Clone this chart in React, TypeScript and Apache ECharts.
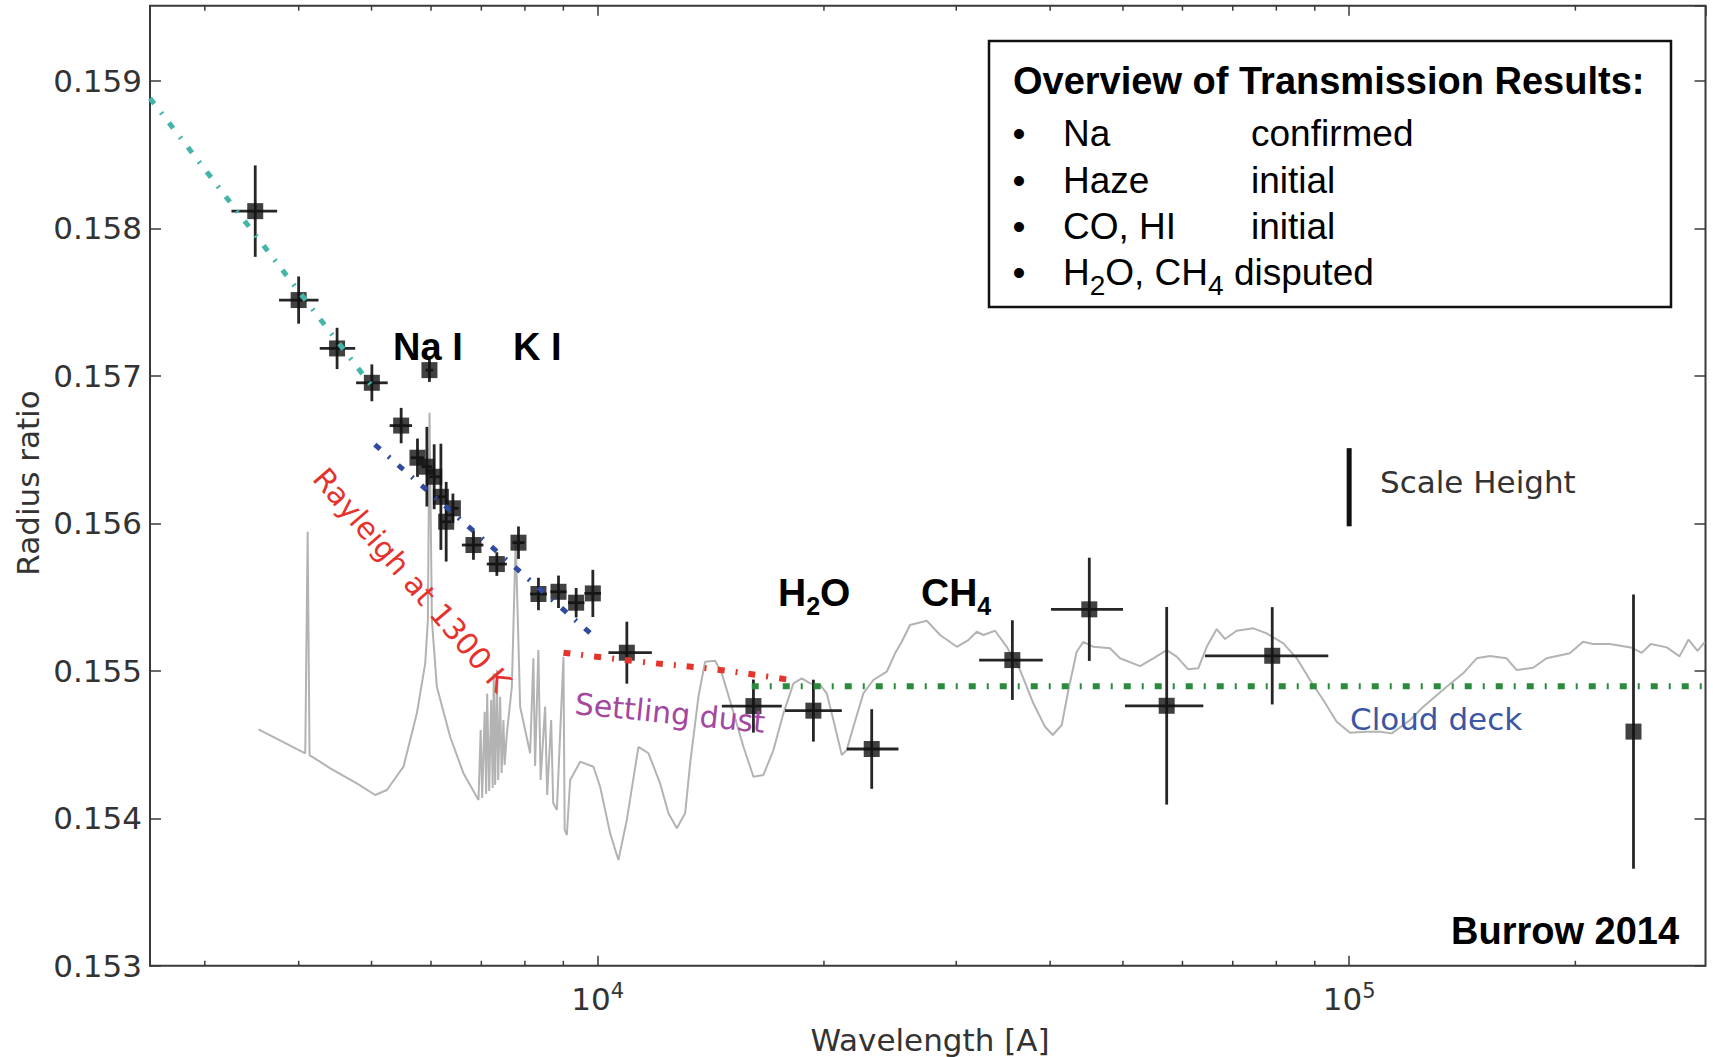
import { useEffect, useRef } from "react";
import * as echarts from "echarts";

// ---------- axis ranges ----------
const WAVELENGTH_MIN = 2536;
const WAVELENGTH_MAX = 298000;
const RADIUS_MIN = 0.153;
const RADIUS_MAX = 0.15951;
const RADIUS_STEP = 0.001;

// ---------- observed transmission points ----------
const obsWavelength = [3501, 3999, 4499, 5005, 5475, 5971, 5756, 5924, 6058, 6184, 6416, 6285, 6833, 7341, 7844, 8339, 8867, 9360, 9851, 10933, 16114, 19364, 23153, 35628, 45100, 57170, 79000, 239000];
const obsRadius = [0.158117, 0.157514, 0.157186, 0.156953, 0.156663, 0.157039, 0.156445, 0.156384, 0.156316, 0.15618, 0.156102, 0.156011, 0.155853, 0.155724, 0.155869, 0.155521, 0.155536, 0.155462, 0.155525, 0.155123, 0.154761, 0.15473, 0.15447, 0.155073, 0.155417, 0.154763, 0.155102, 0.154588];
const obsWavelengthLow = [3255, 3766, 4266, 4769, 5285, 5900, 5640, 5830, 5960, 6090, 6300, 6190, 6595, 7117, 7700, 8129, 8650, 9130, 9600, 10333, 14628, 17755, 21452, 32180, 40110, 50310, 64290, 0];
const obsWavelengthHigh = [3744, 4250, 4755, 5254, 5661, 6040, 5870, 6020, 6160, 6280, 6530, 6380, 7046, 7570, 7990, 8557, 9090, 9600, 10100, 11804, 17576, 21128, 25130, 39100, 50010, 63960, 93800, 0];
const obsRadiusErr = [0.00031, 0.00016, 0.00014, 0.000125, 0.00012, 0.00008, 0.00013, 0.00027, 0.00022, 0.00036, 0.0001, 0.00027, 0.0001, 0.00008, 0.00011, 0.00011, 0.00011, 0.0001, 0.00016, 0.00021, 0.00018, 0.00021, 0.00027, 0.00027, 0.00035, 0.00067, 0.00033, 0.00093];

// ---------- model spectrum (grey) ----------
const modelWavelength = [
  3537, 4081, 4111, 4135, 4406, 4779, 5056, 5241, 5514, 5745, 5894, 5942, 5972, 6016, 6108, 6362, 6627, 6939,
  6986, 7018, 7072, 7104, 7126, 7170, 7214, 7248, 7270, 7303, 7342, 7371, 7415, 7449, 7490, 7518, 7570, 7686,
  7777, 7884, 8129, 8210, 8253, 8337, 8394, 8511, 8564, 8670, 8724, 8823, 9003, 9036, 9097, 9190, 9476,
  9869, 10074, 10387, 10654, 10932, 11329, 11682, 12106, 12419, 12741, 13072, 13273, 13614, 13896, 14328,
  14625, 15080, 15628, 16114, 16615, 17132, 17665, 18215, 18690, 19170, 19766, 20175, 20588, 21125, 21450,
  21889, 22570, 23270, 24243, 24872, 25387, 26038, 27410, 28550, 30050, 31130, 31950, 32600, 33790, 35020,
  36480, 37990, 39380, 40320, 41450, 42300, 43390, 44280, 45660, 48050, 49550, 52690, 54870, 57170, 58950,
  61080, 62980, 64630, 66640, 68360, 70850, 74550, 77670, 81730, 85170, 88690, 92370, 96250, 100250, 105510,
  109900, 113940, 120500, 125500, 134800, 141800, 147800, 153900, 162000, 167100, 175700, 183100, 196600,
  204800, 211200, 222300, 237100, 245100, 252000, 264700, 275200, 282900, 290800, 297300,
];
const modelRadius = [
  0.154603, 0.154441, 0.155943, 0.154429, 0.154339, 0.154237, 0.154158, 0.154192, 0.15435, 0.154712, 0.155051, 0.155344, 0.15675, 0.155344, 0.154892, 0.154553, 0.154305, 0.154124,
  0.154599, 0.154138, 0.154723, 0.154165, 0.154847, 0.154185, 0.154802, 0.154205, 0.154983, 0.154226, 0.155005, 0.15426, 0.154824, 0.154307, 0.154666, 0.154361, 0.154576, 0.154892,
  0.155887, 0.154757, 0.154441, 0.155085, 0.154355, 0.155141, 0.15426, 0.154757, 0.154158, 0.154666, 0.154104, 0.154056, 0.155096, 0.153921, 0.153887, 0.15426, 0.154384,
  0.15435, 0.154214, 0.153898, 0.153717, 0.153989, 0.154485, 0.154441, 0.154237, 0.154034, 0.153932, 0.154034, 0.154373, 0.154824, 0.155062, 0.155068,
  0.154983, 0.154757, 0.154485, 0.154282, 0.154294, 0.154463, 0.154712, 0.154915, 0.154949, 0.154915, 0.154904, 0.154847, 0.154666, 0.154429, 0.154463,
  0.154621, 0.154847, 0.154938, 0.154994, 0.155119, 0.155197, 0.155311, 0.15534, 0.155243, 0.155163, 0.155209, 0.155265, 0.155243, 0.155272, 0.155163,
  0.155005, 0.15478, 0.154621, 0.154565, 0.154633, 0.15487, 0.155129, 0.155197, 0.155163, 0.155153, 0.155085, 0.155032, 0.155085, 0.155141, 0.155096,
  0.15501, 0.155017, 0.155163, 0.155283, 0.155216, 0.155272, 0.155288, 0.155254, 0.155186, 0.155085, 0.154938, 0.154802, 0.154655, 0.15458, 0.154587,
  0.154587, 0.154576, 0.154666, 0.154757, 0.154892, 0.154983, 0.155085, 0.1551, 0.155085, 0.155005, 0.155021, 0.155085, 0.155119,
  0.155197, 0.155182, 0.155182, 0.155159, 0.155122, 0.155182, 0.155159, 0.155098, 0.155212, 0.155135, 0.155195,
];

// ---------- model trend lines ----------
const hazeWavelength = [2536, 5005];
const hazeRadius = [0.158883, 0.15693];
const rayleighWavelength = [5051, 9770];
const rayleighRadius = [0.156534, 0.155256];
const dustWavelength = [9003, 11386, 14328, 18030];
const dustRadius = [0.155123, 0.155062, 0.15501, 0.154938];
const cloudWavelength = [16030, 298000];
const cloudRadius = [0.154895, 0.154895];
const scaleHeightWavelength = [100000, 100000];
const scaleHeightRadius = [0.15651, 0.15598];

// ---------- minor ticks on the log axis ----------
const minorTickWavelength = [3000, 4000, 5000, 6000, 7000, 8000, 9000, 20000, 30000, 40000, 50000, 60000, 70000, 80000, 90000, 200000];

const pairs = (xs: number[], ys: number[]) => xs.map((x, i) => [x, ys[i]]);

const DEJAVU = "DejaVu Sans";
const ARIAL = "Liberation Sans";
const DOT_DASH = [7, 11, 2, 11];

export default function App() {
  const ref = useRef<HTMLDivElement>(null);

  useEffect(() => {
    document.body.style.margin = "0";
    const chart = echarts.init(ref.current!, undefined, { renderer: "svg" });

    const plainText = (text: string, x: number, y: number, size: number, fill: string, family: string, weight: string = "normal", extra: any = {}) => ({
      type: "text",
      x,
      y,
      z: 100,
      silent: true,
      ...extra,
      style: {
        text,
        fontSize: size,
        fontFamily: family,
        fontWeight: weight,
        fill,
        align: extra.align || "left",
        verticalAlign: "middle",
      },
    });

    const subText = (text: string, x: number, y: number, size: number, weight: string, lh: number, subSize: number) => ({
      type: "text",
      x,
      y,
      z: 100,
      silent: true,
      style: {
        text,
        align: "left",
        verticalAlign: "middle",
        rich: {
          n: { fontSize: size, fontFamily: ARIAL, fontWeight: weight, fill: "#000", color: "#000", lineHeight: lh, verticalAlign: "middle" },
          s: { fontSize: subSize, fontFamily: ARIAL, fontWeight: weight, fill: "#000", color: "#000", lineHeight: 14, verticalAlign: "bottom" },
        },
      },
    });

    const option: any = {
      animation: false,
      backgroundColor: "#fff",
      grid: {
        left: 150,
        right: 7.5,
        top: 5.7,
        bottom: 91.2,
        show: true,
        borderColor: "#3a3a3a",
        borderWidth: 2,
        backgroundColor: "transparent",
        containLabel: false,
      },
      xAxis: [
        {
          type: "log",
          logBase: 10,
          min: WAVELENGTH_MIN,
          max: WAVELENGTH_MAX,
          position: "bottom",
          axisLine: { show: false },
          splitLine: { show: false },
          axisTick: { show: true, inside: true, length: 10, lineStyle: { color: "#3a3a3a", width: 1.5 } },
          axisLabel: {
            showMinLabel: false,
            showMaxLabel: false,
            margin: 15,
            formatter: (v: number) => {
              const e = Math.log10(v);
              const k = Math.round(e);
              if (Math.abs(e - k) > 1e-6) return "";
              return `{n|10}{s|${k}}`;
            },
            rich: {
              n: { fontSize: 31, fontFamily: DEJAVU, color: "#333", lineHeight: 36, verticalAlign: "middle" },
              s: { fontSize: 21, fontFamily: DEJAVU, color: "#333", lineHeight: 18, verticalAlign: "top" },
            },
          },
        },
        {
          type: "log",
          logBase: 10,
          min: WAVELENGTH_MIN,
          max: WAVELENGTH_MAX,
          position: "top",
          axisLine: { show: false },
          splitLine: { show: false },
          axisLabel: { show: false },
          axisTick: { show: true, inside: true, length: 10, lineStyle: { color: "#3a3a3a", width: 1.5 } },
        },
      ],
      yAxis: [
        {
          type: "value",
          min: RADIUS_MIN,
          max: RADIUS_MAX,
          interval: RADIUS_STEP,
          position: "left",
          axisLine: { show: false },
          splitLine: { show: false },
          axisTick: { show: true, inside: true, length: 11, lineStyle: { color: "#3a3a3a", width: 1.5 } },
          axisLabel: {
            showMaxLabel: false,
            margin: 8,
            fontSize: 31,
            fontFamily: DEJAVU,
            color: "#333",
            formatter: (v: number) => v.toFixed(3),
          },
        },
        {
          type: "value",
          min: RADIUS_MIN,
          max: RADIUS_MAX,
          interval: RADIUS_STEP,
          position: "right",
          axisLine: { show: false },
          splitLine: { show: false },
          axisLabel: { show: false },
          axisTick: { show: true, inside: true, length: 11, lineStyle: { color: "#3a3a3a", width: 1.5 } },
        },
      ],
      series: [
        {
          name: "model",
          type: "line",
          data: pairs(modelWavelength, modelRadius),
          showSymbol: false,
          symbol: "none",
          lineStyle: { color: "#b3b3b3", width: 2 },
          z: 2,
          silent: true,
        },
        {
          name: "errors",
          type: "custom",
          data: obsWavelength.map((w, i) => [w, obsRadius[i], obsWavelengthLow[i], obsWavelengthHigh[i], obsRadiusErr[i]]),
          encode: { x: 0, y: 1 },
          z: 3,
          silent: true,
          renderItem: (_params: any, api: any) => {
            const x = api.value(0);
            const y = api.value(1);
            const xl = api.value(2);
            const xh = api.value(3);
            const e = api.value(4);
            const children: any[] = [];
            const st = { stroke: "#262626", lineWidth: 2.8 };
            if (e > 0) {
              const a = api.coord([x, y - e]);
              const b = api.coord([x, y + e]);
              children.push({ type: "line", shape: { x1: a[0], y1: a[1], x2: b[0], y2: b[1] }, style: st });
            }
            if (xl > 0 && xh > 0) {
              const a = api.coord([xl, y]);
              const b = api.coord([xh, y]);
              children.push({ type: "line", shape: { x1: a[0], y1: a[1], x2: b[0], y2: b[1] }, style: st });
            }
            return { type: "group", children };
          },
        },
        {
          name: "observed",
          type: "scatter",
          data: pairs(obsWavelength, obsRadius),
          symbol: "rect",
          symbolSize: 16,
          itemStyle: { color: "#111" },
          z: 4,
          silent: true,
        },
        {
          name: "haze",
          type: "line",
          data: pairs(hazeWavelength, hazeRadius),
          showSymbol: false,
          symbol: "none",
          lineStyle: { color: "#45b5aa", width: 5, type: DOT_DASH, cap: "butt" },
          z: 6,
          silent: true,
        },
        {
          name: "rayleigh",
          type: "line",
          data: pairs(rayleighWavelength, rayleighRadius),
          showSymbol: false,
          symbol: "none",
          lineStyle: { color: "#2f4a9e", width: 5, type: DOT_DASH, cap: "butt" },
          z: 6,
          silent: true,
        },
        {
          name: "dust",
          type: "line",
          data: pairs(dustWavelength, dustRadius),
          showSymbol: false,
          symbol: "none",
          smooth: true,
          lineStyle: { color: "#e3352c", width: 6, type: DOT_DASH, cap: "butt" },
          z: 6,
          silent: true,
        },
        {
          name: "cloud",
          type: "line",
          data: pairs(cloudWavelength, cloudRadius),
          showSymbol: false,
          symbol: "none",
          lineStyle: { color: "#2b8a3e", width: 6, type: DOT_DASH, cap: "butt" },
          z: 6,
          silent: true,
        },
        {
          name: "scaleHeight",
          type: "line",
          data: pairs(scaleHeightWavelength, scaleHeightRadius),
          showSymbol: false,
          symbol: "none",
          lineStyle: { color: "#111", width: 5, cap: "butt" },
          z: 6,
          silent: true,
        },
        {
          name: "minorTicks",
          type: "custom",
          data: minorTickWavelength.map((w) => [w, RADIUS_MIN]),
          encode: { x: 0, y: 1 },
          clip: false,
          z: 7,
          silent: true,
          renderItem: (_params: any, api: any) => {
            const w = api.value(0);
            const b = api.coord([w, RADIUS_MIN]);
            const t = api.coord([w, RADIUS_MAX]);
            const st = { stroke: "#3a3a3a", lineWidth: 1.5 };
            return {
              type: "group",
              children: [
                { type: "line", shape: { x1: b[0], y1: b[1], x2: b[0], y2: b[1] - 5 }, style: st },
                { type: "line", shape: { x1: t[0], y1: t[1], x2: t[0], y2: t[1] + 5 }, style: st },
              ],
            };
          },
        },
      ],
      graphic: [
        // axis titles
        plainText("Radius ratio", 28, 483, 31, "#333", DEJAVU, "normal", { rotation: Math.PI / 2, align: "center" }),
        plainText("Wavelength [A]", 930, 1040, 31, "#333", DEJAVU, "normal", { align: "center" }),
        // feature annotations
        plainText("Na I", 393, 347, 38, "#000", ARIAL, "bold"),
        plainText("K I", 513, 347, 38, "#000", ARIAL, "bold"),
        subText("{n|H}{s|2}{n|O}", 778, 592, 39, "bold", 52, 25),
        subText("{n|CH}{s|4}", 921, 592, 39, "bold", 52, 25),
        plainText("Burrow 2014", 1451, 931, 38, "#000", ARIAL, "bold"),
        plainText("Rayleigh at 1300 K", 412, 580, 30, "#e5322d", DEJAVU, "normal", { rotation: -0.859, align: "center" }),
        plainText("Settling dust", 670, 713, 30, "#a3479f", DEJAVU, "normal", { rotation: -0.1, align: "center" }),
        plainText("Cloud deck", 1350, 719, 31, "#3b56a3", DEJAVU, "normal"),
        plainText("Scale Height", 1380, 482, 31, "#333", DEJAVU, "normal"),
        // overview box
        {
          type: "rect",
          z: 90,
          silent: true,
          shape: { x: 989, y: 41, width: 682, height: 266 },
          style: { fill: "#fff", stroke: "#111", lineWidth: 2.5 },
        },
        plainText("Overview of Transmission Results:", 1013, 81, 38, "#000", ARIAL, "bold"),
        plainText("•", 1019, 133, 37, "#000", ARIAL, "normal", { align: "center" }),
        plainText("•", 1019, 180, 37, "#000", ARIAL, "normal", { align: "center" }),
        plainText("•", 1019, 226, 37, "#000", ARIAL, "normal", { align: "center" }),
        plainText("•", 1019, 272, 37, "#000", ARIAL, "normal", { align: "center" }),
        plainText("Na", 1063, 133, 37, "#000", ARIAL),
        plainText("confirmed", 1251, 133, 37, "#000", ARIAL),
        plainText("Haze", 1063, 180, 37, "#000", ARIAL),
        plainText("initial", 1251, 180, 37, "#000", ARIAL),
        plainText("CO, HI", 1063, 226, 37, "#000", ARIAL),
        plainText("initial", 1251, 226, 37, "#000", ARIAL),
        subText("{n|H}{s|2}{n|O, CH}{s|4}{n| disputed}", 1063, 272, 37, "normal", 54, 28),
      ],
    };

    chart.setOption(option);
    return () => chart.dispose();
  }, []);

  return <div ref={ref} style={{ width: 1713, height: 1057 }} />;
}
